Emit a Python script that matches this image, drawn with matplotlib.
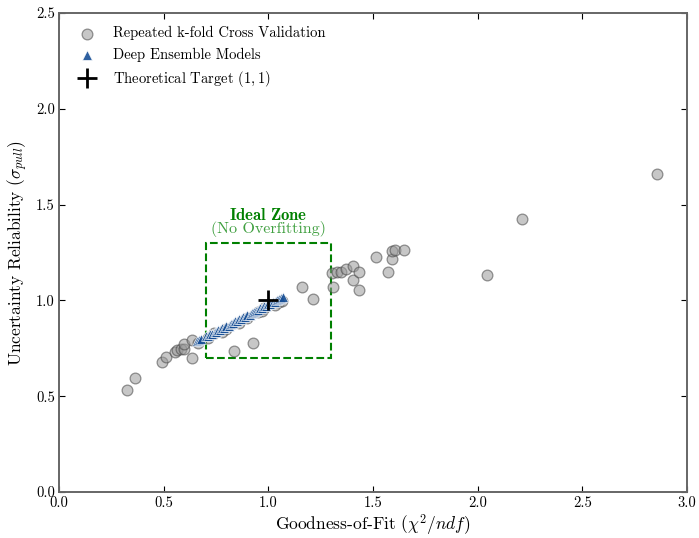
import matplotlib
matplotlib.use('Agg')
import matplotlib.pyplot as plt
from matplotlib.patches import Rectangle

plt.rcParams['font.family'] = 'serif'
plt.rcParams['font.serif'] = ['cmr10']
plt.rcParams['mathtext.fontset'] = 'cm'
plt.rcParams['axes.formatter.use_mathtext'] = True

# repeated k-fold CV results
cv_chi2 = [0.326, 0.363, 0.492, 0.513, 0.553, 0.562, 0.581, 0.597, 0.597, 0.634,
           0.634, 0.666, 0.713, 0.74, 0.777, 0.80, 0.838, 0.86, 0.90, 0.928,
           0.95, 0.971, 0.98, 1.032, 1.05, 1.067, 1.160, 1.212, 1.303, 1.311,
           1.327, 1.346, 1.371, 1.403, 1.403, 1.435, 1.435, 1.513, 1.573, 1.590,
           1.592, 1.605, 1.648, 2.046, 2.209, 2.857]
cv_sigma = [0.534, 0.597, 0.680, 0.703, 0.732, 0.741, 0.745, 0.748, 0.771, 0.698,
            0.793, 0.779, 0.802, 0.83, 0.837, 0.85, 0.737, 0.88, 0.91, 0.776,
            0.94, 0.946, 0.96, 0.976, 0.99, 0.997, 1.068, 1.007, 1.141, 1.068,
            1.147, 1.150, 1.164, 1.181, 1.106, 1.150, 1.054, 1.227, 1.150, 1.216,
            1.258, 1.263, 1.263, 1.134, 1.423, 1.660]

# deep ensemble results
de_chi2 = [0.66, 0.67, 0.68, 0.70, 0.71, 0.72, 0.73, 0.745, 0.75, 0.76,
           0.77, 0.78, 0.79, 0.80, 0.81, 0.82, 0.83, 0.84, 0.85, 0.86,
           0.87, 0.88, 0.89, 0.90, 0.91, 0.92, 0.93, 0.94, 0.95, 0.96,
           0.97, 0.98, 0.99, 1.00, 1.01, 1.02, 1.03, 1.04, 1.05, 1.06, 1.07]
de_sigma = [0.787, 0.792, 0.798, 0.812, 0.813, 0.823, 0.824, 0.836, 0.835, 0.844,
            0.846, 0.856, 0.857, 0.867, 0.869, 0.878, 0.880, 0.890, 0.891, 0.901,
            0.903, 0.912, 0.914, 0.924, 0.926, 0.935, 0.937, 0.947, 0.948, 0.958,
            0.960, 0.970, 0.971, 0.981, 0.983, 0.992, 0.994, 1.004, 1.005, 1.015, 1.020]

target = (1, 1)

fig, ax = plt.subplots(figsize=(6.99, 5.38), dpi=100)
fig.subplots_adjust(left=0.0844, right=0.983, bottom=0.0855, top=0.9758)

ax.scatter(cv_chi2, cv_sigma, s=60, c='#999999', alpha=0.55, edgecolors='#444444',
           linewidths=0.9, label='Repeated k-fold Cross Validation', zorder=2)
ax.scatter(de_chi2, de_sigma, s=50, marker='^', c='#174f96', alpha=0.9,
           edgecolors='white', linewidths=0.5, label='Deep Ensemble Models', zorder=3)
ax.plot(*target, marker='+', color='black', markersize=14, mew=2, linestyle='none',
        label=r'Theoretical Target $(1,1)$', zorder=4)

ax.add_patch(Rectangle((0.7, 0.7), 0.6, 0.6, fill=False, edgecolor='green',
                       linestyle='--', linewidth=1.5, zorder=1))
ax.text(1.0, 1.42, r'$\mathbf{Ideal\ Zone}$', color='green', ha='center', va='baseline', fontsize=12)
ax.text(1.0, 1.352, '(No Overfitting)', color='green', alpha=0.75, ha='center', va='baseline', fontsize=11.5)

ax.set_xlim(0, 3.0)
ax.set_ylim(0, 2.5)
ax.set_xticks([0, 0.5, 1.0, 1.5, 2.0, 2.5, 3.0])
ax.set_yticks([0, 0.5, 1.0, 1.5, 2.0, 2.5])
ax.set_xticklabels(['0.0', '0.5', '1.0', '1.5', '2.0', '2.5', '3.0'])
ax.set_yticklabels(['0.0', '0.5', '1.0', '1.5', '2.0', '2.5'])
ax.tick_params(direction='in', top=True, right=True, labelsize=10.5, length=4, pad=3)
for sp in ax.spines.values():
    sp.set_color('#666666')
    sp.set_linewidth(1.4)

ax.set_xlabel(r'Goodness-of-Fit ($\chi^2/ndf$)', fontsize=12.5, labelpad=2)
ax.set_ylabel(r'Uncertainty Reliability ($\sigma_{pull}$)', fontsize=12.5, labelpad=4)

ax.legend(loc='upper left', frameon=False, fontsize=10.5)

fig.savefig('out.png', dpi=100)
